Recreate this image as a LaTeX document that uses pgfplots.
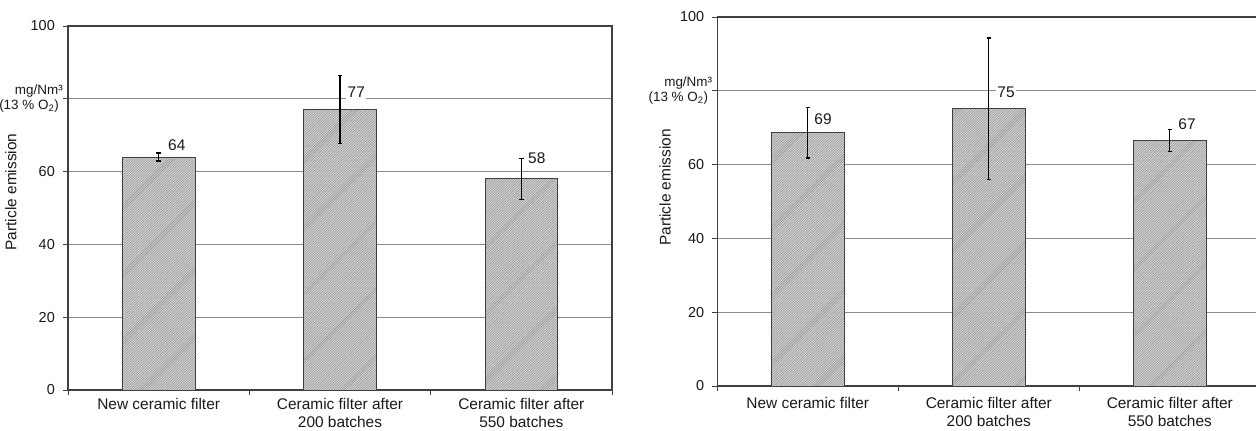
\documentclass[border=0pt]{standalone}
\usepackage{fontspec}
\setmainfont{Liberation Sans}
\usepackage{pgfplots}
\pgfplotsset{compat=1.18}
\usetikzlibrary{patterns}
\definecolor{gridgray}{HTML}{8A8A8A}
\definecolor{axisgray}{HTML}{404040}
\definecolor{barfill}{HTML}{DADADA}
\definecolor{hatch}{HTML}{8C8C8C}

\pgfdeclarepatternformonly{finehatch}{\pgfqpoint{-1pt}{-1pt}}{\pgfqpoint{3.5pt}{3.5pt}}{\pgfqpoint{2.5pt}{2.5pt}}{%
  \pgfsetlinewidth{0.55pt}%
  \pgfpathmoveto{\pgfqpoint{0pt}{0pt}}%
  \pgfpathlineto{\pgfqpoint{2.51pt}{2.51pt}}%
  \pgfusepath{stroke}%
}

\tikzset{vlabel/.style={fill=white, inner sep=1.5bp, font=\fontsize{15.5}{18}\selectfont, text=black!90}}

\newcommand{\unitlabel}{\begin{tabular}{@{}r@{}}\fontsize{13.5}{15}\selectfont mg/Nm³\\[-1bp]\fontsize{13.5}{15}\selectfont(13 \% O\textsubscript{2})\kern4bp\end{tabular}\kern-8bp}

\pgfplotsset{
  panel/.style={
    scale only axis,
    xmin=-0.5, xmax=2.5, ymin=0, ymax=100,
    xtick={0,1,2},
    xticklabels={New ceramic filter,{Ceramic filter after\\200 batches},{Ceramic filter after\\550 batches}},
    xticklabel style={align=center, font=\fontsize{15.5}{17.5}\selectfont, text=black!90},
    every major x tick/.style={draw=none},
    minor xtick={-0.5,0.5,1.5,2.5},
    minor tick length=5bp,
    major tick length=5bp,
    every minor x tick/.style={axisgray, line width=0.8pt},
    xtick pos=bottom, ytick pos=left,
    ytick={0,20,40,60,80,100},
    yticklabels={0,20,40,60,\unitlabel,100},
    yticklabel style={font=\fontsize{14.5}{16}\selectfont, text=black!90, inner sep=2bp, xshift=-6bp},
    tick align=outside,
    every major y tick/.style={axisgray, line width=0.8pt},
    ymajorgrids,
    grid style={gridgray, line width=0.9pt},
    axis line style={axisgray, line width=1.1pt},
    ylabel={Particle emission},
    clip=false,
  },
  bars/.style={
    ybar, bar width=0.4, fill=barfill, draw=axisgray, line width=0.8pt,
    postaction={pattern=finehatch, pattern color=hatch},
    error bars/.cd, y dir=both, y explicit,
    error bar style={black, line width=1.1pt},
    error mark options={black, line width=1.1pt, mark size=2.2bp, rotate=90},
  },
}

\pgfplotstableread{
x y e
0 64 1.1
1 77 9.3
2 58 5.6
}\leftdata

\pgfplotstableread{
x y e
0 68.6 6.8
1 75.1 19.2
2 66.5 3.0
}\rightdata

\begin{document}
\begin{tikzpicture}[x=1bp,y=1bp]
\useasboundingbox (0,0) rectangle (1256,430);
\clip (0,0) rectangle (1256,430);

\begin{axis}[panel, at={(68bp,40bp)}, anchor=south west,
  width=544bp, height=364bp,
  every axis y label/.style={at={(axis description cs:-0.105,0.544)}, rotate=90, anchor=center,
    font=\fontsize{15.5}{18}\selectfont, text=black!90}]
  \addplot[bars] table[x=x, y=y, y error=e] {\leftdata};
  \node[vlabel] at (axis cs:0.10,67.3) {64};
  \node[vlabel] at (axis cs:1.09,81.9) {77};
  \node[vlabel] at (axis cs:2.085,63.6) {58};
\end{axis}

\begin{axis}[panel, at={(717.3bp,44bp)}, anchor=south west,
  width=543bp, height=369bp,
  xticklabel style={yshift=-3bp},
  every axis y label/.style={at={(axis description cs:-0.096,0.538)}, rotate=90, anchor=center,
    font=\fontsize{15.5}{18}\selectfont, text=black!90}]
  \addplot[bars] table[x=x, y=y, y error=e] {\rightdata};
  \node[vlabel] at (axis cs:0.084,72.3) {69};
  \node[vlabel] at (axis cs:1.095,79.5) {75};
  \node[vlabel] at (axis cs:2.095,71.0) {67};
\end{axis}
\end{tikzpicture}
\end{document}
